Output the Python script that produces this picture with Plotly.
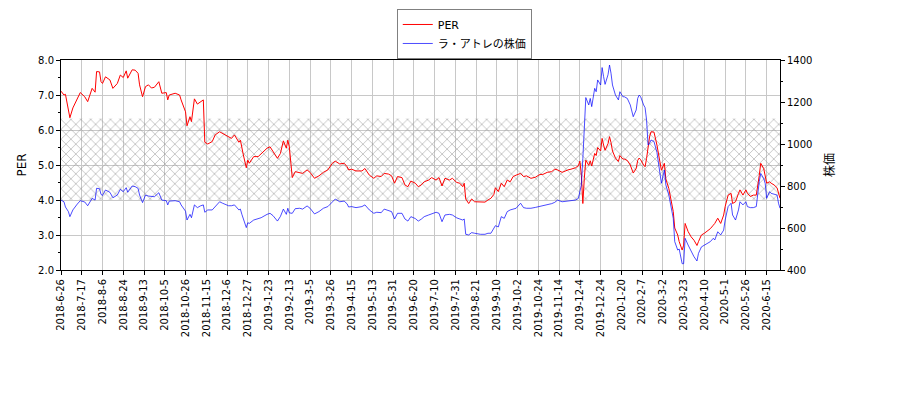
import plotly.graph_objects as go

# x tick labels, one every 14 trading days
tick_labels = [
    "2018-6-26", "2018-7-17", "2018-8-6", "2018-8-24", "2018-9-13", "2018-10-5",
    "2018-10-26", "2018-11-15", "2018-12-6", "2018-12-27", "2019-1-23", "2019-2-13",
    "2019-3-5", "2019-3-26", "2019-4-15", "2019-5-13", "2019-5-31", "2019-6-20",
    "2019-7-10", "2019-7-31", "2019-8-21", "2019-9-10", "2019-10-2", "2019-10-24",
    "2019-11-14", "2019-12-4", "2019-12-24", "2020-1-20", "2020-2-7", "2020-3-2",
    "2020-3-23", "2020-4-10", "2020-5-1", "2020-5-26", "2020-6-15",
]
tick_step = 14

# trading-day index of each sample
day = [
    0, 2, 3, 5, 6, 8, 11, 13, 16, 18, 21, 23, 24, 26, 27, 28, 30, 33, 35, 38,
    40, 42, 44, 45, 48, 50, 52, 53, 55, 57, 59, 61, 63, 66, 68, 71, 72, 73, 77, 80,
    81, 84, 85, 87, 88, 90, 92, 94, 96, 97, 99, 102, 104, 107, 109, 113, 115, 117, 120, 121,
    122, 123, 125, 126, 127, 130, 133, 135, 139, 141, 143, 146, 148, 150, 152, 153, 154, 156, 158, 161,
    163, 166, 168, 171, 174, 177, 180, 183, 185, 188, 191, 193, 194, 196, 199, 203, 205, 208, 211, 213,
    216, 218, 221, 223, 225, 227, 230, 232, 234, 236, 239, 241, 243, 245, 248, 250, 253, 255, 257, 259,
    262, 264, 267, 269, 271, 272, 273, 275, 277, 279, 283, 286, 288, 290, 292, 293, 295, 297, 299, 301,
    303, 305, 307, 310, 312, 314, 317, 320, 323, 325, 328, 331, 333, 335, 338, 340, 342, 344, 347, 349,
    350, 351, 352, 353, 354, 356, 357, 358, 360, 361, 362, 364, 365, 366, 367, 369, 370, 371, 372, 374,
    376, 377, 379, 380, 382, 384, 385, 386, 388, 389, 390, 391, 393, 394, 395, 396, 397, 398, 400, 402,
    403, 405, 407, 408, 410, 411, 413, 414, 416, 417, 419, 420, 421, 423, 425, 427, 429, 430, 432, 434,
    438, 440, 441, 443, 445, 447, 448, 450, 452, 453, 455, 457, 458, 460, 462, 463, 465, 467, 469, 471,
    472, 474, 475, 476, 478, 479, 481, 483, 484, 485,
]

per = [
    7.11, 7.00, 7.02, 6.57, 6.35, 6.63, 6.92, 7.07, 6.95, 6.81, 7.19, 7.08, 7.67, 7.66, 7.38, 7.33, 7.52, 7.43, 7.19, 7.33,
    7.57, 7.50, 7.69, 7.48, 7.72, 7.71, 7.62, 7.29, 6.95, 7.24, 7.29, 7.20, 7.22, 7.38, 7.05, 7.07, 6.86, 7.00, 7.05, 7.00,
    6.86, 6.52, 6.12, 6.38, 6.24, 6.89, 6.74, 6.81, 6.86, 5.65, 5.60, 5.67, 5.86, 5.95, 5.90, 5.81, 5.76, 5.86, 5.65, 5.71,
    5.45, 5.29, 4.92, 5.14, 5.05, 5.24, 5.24, 5.33, 5.48, 5.52, 5.38, 5.19, 5.33, 5.69, 5.48, 5.71, 5.52, 4.64, 4.81, 4.79,
    4.76, 4.86, 4.79, 4.62, 4.69, 4.79, 4.86, 5.05, 5.11, 5.03, 5.05, 4.95, 4.86, 4.88, 4.83, 4.83, 4.90, 4.71, 4.62, 4.69,
    4.67, 4.76, 4.74, 4.69, 4.48, 4.67, 4.64, 4.43, 4.38, 4.54, 4.48, 4.38, 4.43, 4.52, 4.57, 4.64, 4.57, 4.64, 4.40, 4.62,
    4.57, 4.62, 4.50, 4.48, 4.38, 4.48, 4.03, 3.90, 4.03, 3.95, 3.95, 3.94, 4.00, 4.05, 4.16, 4.35, 4.24, 4.48, 4.38, 4.57,
    4.52, 4.67, 4.71, 4.76, 4.67, 4.69, 4.62, 4.65, 4.73, 4.73, 4.79, 4.81, 4.88, 4.86, 4.79, 4.83, 4.86, 4.88, 4.92, 4.98,
    5.11, 4.71, 3.90, 4.62, 5.14, 4.99, 5.12, 4.97, 5.33, 5.27, 5.50, 5.40, 5.76, 5.57, 5.42, 5.61, 5.81, 5.64, 5.40, 5.20,
    5.10, 5.27, 5.17, 5.17, 5.13, 5.00, 4.90, 4.77, 4.90, 5.13, 5.20, 5.15, 5.00, 4.95, 5.19, 5.57, 5.80, 5.95, 5.94, 5.57,
    5.29, 4.85, 5.05, 4.60, 4.33, 4.14, 3.67, 3.20, 3.00, 2.81, 2.57, 2.71, 3.33, 3.10, 2.95, 2.85, 2.70, 2.81, 3.00, 3.05,
    3.18, 3.28, 3.33, 3.48, 3.33, 3.57, 3.81, 4.14, 4.19, 3.90, 3.95, 4.19, 4.29, 4.14, 4.29, 4.19, 4.10, 4.14, 4.14, 4.70,
    5.05, 4.90, 4.71, 4.48, 4.52, 4.48, 4.43, 4.35, 4.20, 4.05,
]

price = [
    733, 725, 700, 678, 654, 686, 714, 730, 724, 706, 741, 733, 789, 787, 760, 755, 781, 770, 744, 757,
    784, 773, 792, 770, 800, 797, 789, 757, 721, 757, 752, 749, 749, 768, 733, 730, 710, 728, 730, 725,
    710, 680, 638, 665, 649, 710, 697, 705, 710, 675, 686, 686, 702, 725, 718, 706, 706, 710, 686, 690,
    665, 645, 602, 625, 622, 638, 643, 649, 665, 670, 659, 633, 655, 690, 665, 694, 672, 670, 692, 694,
    690, 705, 694, 667, 678, 694, 702, 725, 738, 725, 728, 715, 700, 702, 697, 702, 710, 686, 670, 675,
    673, 690, 684, 678, 643, 670, 670, 643, 633, 654, 645, 633, 642, 654, 662, 667, 675, 670, 630, 662,
    665, 662, 648, 643, 638, 643, 570, 567, 578, 575, 570, 570, 575, 575, 595, 611, 605, 654, 646, 678,
    686, 690, 694, 718, 697, 694, 694, 698, 702, 706, 712, 716, 722, 733, 725, 727, 728, 730, 733, 741,
    770, 805, 930, 1100, 1221, 1186, 1217, 1178, 1265, 1249, 1305, 1281, 1364, 1321, 1284, 1330, 1376, 1337, 1281, 1233,
    1210, 1249, 1225, 1225, 1217, 1186, 1162, 1130, 1162, 1217, 1233, 1225, 1186, 1173, 1114, 995, 1003, 1019, 1012, 960,
    910, 813, 876, 805, 757, 718, 646, 535, 495, 500, 430, 430, 551, 519, 487, 463, 443, 479, 510, 519,
    535, 551, 543, 582, 567, 590, 638, 702, 718, 662, 638, 686, 725, 710, 725, 702, 697, 697, 702, 821,
    860, 836, 813, 741, 773, 765, 760, 757, 718, 694,
]

# hatched PER band
band_low = 4.0
band_high = 6.33

font_family = "DejaVu Sans, Noto Sans CJK JP, sans-serif"

fig = go.Figure()

# band: lower edge, then upper edge filled down to it with an x hatch
fig.add_trace(
    go.Scatter(
        x=[day[0], day[-1]],
        y=[band_low, band_low],
        mode="lines",
        line=dict(width=0),
        hoverinfo="skip",
        showlegend=False,
    )
)
fig.add_trace(
    go.Scatter(
        x=[day[0], day[-1]],
        y=[band_high, band_high],
        mode="lines",
        line=dict(width=0),
        fill="tonexty",
        fillcolor="rgba(0,0,0,0)",
        fillpattern=dict(
            shape="x",
            size=7,
            solidity=0.25,
            fgcolor="#8a8a8a",
            bgcolor="rgba(0,0,0,0)",
        ),
        hoverinfo="skip",
        showlegend=False,
    )
)

fig.add_trace(
    go.Scatter(
        x=day,
        y=per,
        mode="lines",
        name="PER",
        line=dict(color="#ff0000", width=1),
    )
)
fig.add_trace(
    go.Scatter(
        x=day,
        y=price,
        mode="lines",
        name="ラ・アトレの株価",
        yaxis="y2",
        line=dict(color="rgba(0,0,255,0.7)", width=1),
    )
)

tick_vals = [i * tick_step for i in range(len(tick_labels))]

# the page puts the figure 8px in from the window's top-left corner
fig.update_layout(
    width=892,
    height=392,
    margin=dict(l=53, r=120, t=52, b=130, autoexpand=False),
    paper_bgcolor="white",
    plot_bgcolor="white",
    font=dict(family=font_family, size=10, color="black"),
    showlegend=True,
    legend=dict(
        x=0.467,
        y=1.243,
        xanchor="left",
        yanchor="top",
        traceorder="normal",
        bgcolor="white",
        bordercolor="#808080",
        borderwidth=1,
        font=dict(size=11),
        tracegroupgap=0,
        itemwidth=30,
    ),
    xaxis=dict(
        range=[day[0], day[-1]],
        tickmode="array",
        tickvals=tick_vals,
        ticktext=tick_labels,
        tickangle=-90,
        ticks="outside",
        ticklen=4,
        tickcolor="black",
        showgrid=True,
        gridcolor="#c8c8c8",
        gridwidth=1,
        showline=True,
        linecolor="black",
        linewidth=1,
        mirror=True,
        zeroline=False,
    ),
    yaxis=dict(
        range=[2, 8],
        dtick=1,
        tickformat=".1f",
        ticks="outside",
        ticklen=4,
        tickcolor="black",
        minor=dict(dtick=0.5, ticks="outside", ticklen=2, tickcolor="black", showgrid=False),
        showgrid=True,
        gridcolor="#c8c8c8",
        gridwidth=1,
        showline=True,
        linecolor="black",
        linewidth=1,
        zeroline=False,
        title=dict(text="PER", standoff=8),
    ),
    yaxis2=dict(
        range=[400, 1400],
        dtick=200,
        overlaying="y",
        side="right",
        ticks="outside",
        ticklen=4,
        tickcolor="black",
        minor=dict(dtick=100, ticks="outside", ticklen=2, tickcolor="black", showgrid=False),
        showgrid=False,
        showline=True,
        linecolor="black",
        linewidth=1,
        zeroline=False,
        title=dict(text="株価", standoff=14),
    ),
)

fig.write_html("out.html")
